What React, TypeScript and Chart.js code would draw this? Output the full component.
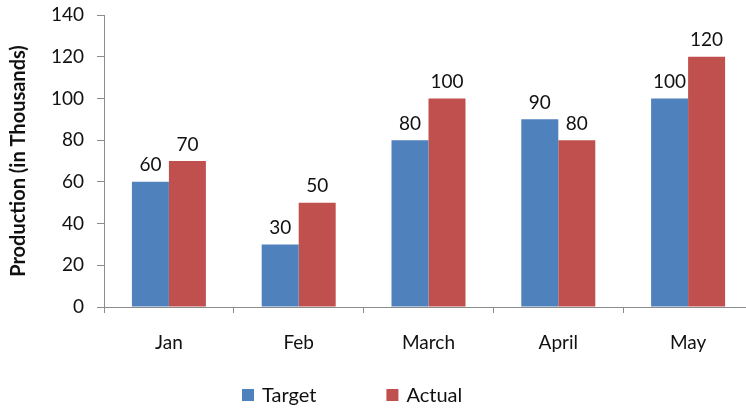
import React, { useEffect, useRef } from "react";
import { Chart, registerables } from "chart.js";

Chart.register(...registerables);

const categories = ["Jan", "Feb", "March", "April", "May"];
const targetValues = [60, 30, 80, 90, 100];
const actualValues = [70, 50, 100, 80, 120];
const seriesNames = ["Target", "Actual"];
const seriesColors = ["#4F81BD", "#C0504D"];
const yTitle = "Production (in Thousands)";

const FONT = "Lato, 'Open Sans', sans-serif";
const TEXT = "#111111";
const AXIS = "#8c8c8c";

const valueLabels = {
  id: "valueLabels",
  afterDatasetsDraw(chart: any) {
    const ctx = chart.ctx;
    ctx.save();
    ctx.font = `19px ${FONT}`;
    ctx.fillStyle = TEXT;
    ctx.textAlign = "center";
    ctx.textBaseline = "bottom";
    chart.data.datasets.forEach((ds: any, i: number) => {
      const meta = chart.getDatasetMeta(i);
      meta.data.forEach((el: any, j: number) => {
        ctx.fillText(String(ds.data[j]), el.x, el.y - 7);
      });
    });
    ctx.restore();
  },
};

const customLegend = {
  id: "customLegend",
  afterDraw(chart: any) {
    const ctx = chart.ctx;
    ctx.save();
    ctx.font = `20px ${FONT}`;
    ctx.textBaseline = "middle";
    ctx.textAlign = "left";
    const box = 12;
    const y = 395;
    let x = 242;
    chart.data.datasets.forEach((ds: any) => {
      ctx.fillStyle = ds.backgroundColor;
      ctx.fillRect(x, y - box / 2, box, box);
      ctx.fillStyle = TEXT;
      const label = ds.label;
      ctx.fillText(label, x + box + 8, y + 1);
      x += box + 8 + ctx.measureText(label).width + 70;
    });
    ctx.restore();
  },
};

export default function App() {
  const ref = useRef<HTMLCanvasElement>(null);
  useEffect(() => {
    document.body.style.margin = "0";
    const chart = new Chart(ref.current!, {
      type: "bar",
      data: {
        labels: categories,
        datasets: [
          { label: seriesNames[0], data: targetValues, backgroundColor: seriesColors[0] },
          { label: seriesNames[1], data: actualValues, backgroundColor: seriesColors[1] },
        ],
      },
      options: {
        responsive: false,
        animation: false,
        layout: { padding: { top: 15, left: 0, right: 0, bottom: 0 } },
        datasets: { bar: { barPercentage: 1, categoryPercentage: 0.57 } },
        plugins: {
          legend: { display: false },
          tooltip: { enabled: false },
        },
        scales: {
          x: {
            grid: {
              display: true,
              drawOnChartArea: false,
              drawTicks: true,
              tickLength: 6,
              color: AXIS,
              offset: true,
            },
            border: { display: true, color: AXIS, width: 1 },
            ticks: {
              color: TEXT,
              font: { family: FONT, size: 19 },
              padding: 18,
              maxRotation: 0,
            },
            afterFit(scale: any) {
              scale.height = 102;
              scale.paddingLeft = 0;
              scale.paddingRight = 0;
            },
          },
          y: {
            min: 0,
            max: 140,
            ticks: {
              stepSize: 20,
              color: TEXT,
              font: { family: FONT, size: 19 },
              padding: 13,
            },
            grid: {
              display: true,
              drawOnChartArea: false,
              drawTicks: true,
              tickLength: 7,
              color: AXIS,
            },
            border: { display: true, color: AXIS, width: 1 },
            title: {
              display: true,
              text: yTitle,
              color: TEXT,
              font: { family: FONT, size: 20, weight: "bold" },
              padding: { top: 7, bottom: 0 },
            },
            afterFit(scale: any) {
              scale.width = 104;
              scale.paddingTop = 0;
              scale.paddingBottom = 0;
            },
          },
        },
      },
      plugins: [valueLabels, customLegend],
    });
    return () => chart.destroy();
  }, []);
  return (
    <div style={{ width: 746, height: 409, overflow: "hidden", position: "relative" }}>
      <canvas ref={ref} width={753} height={409} style={{ display: "block" }} />
    </div>
  );
}
